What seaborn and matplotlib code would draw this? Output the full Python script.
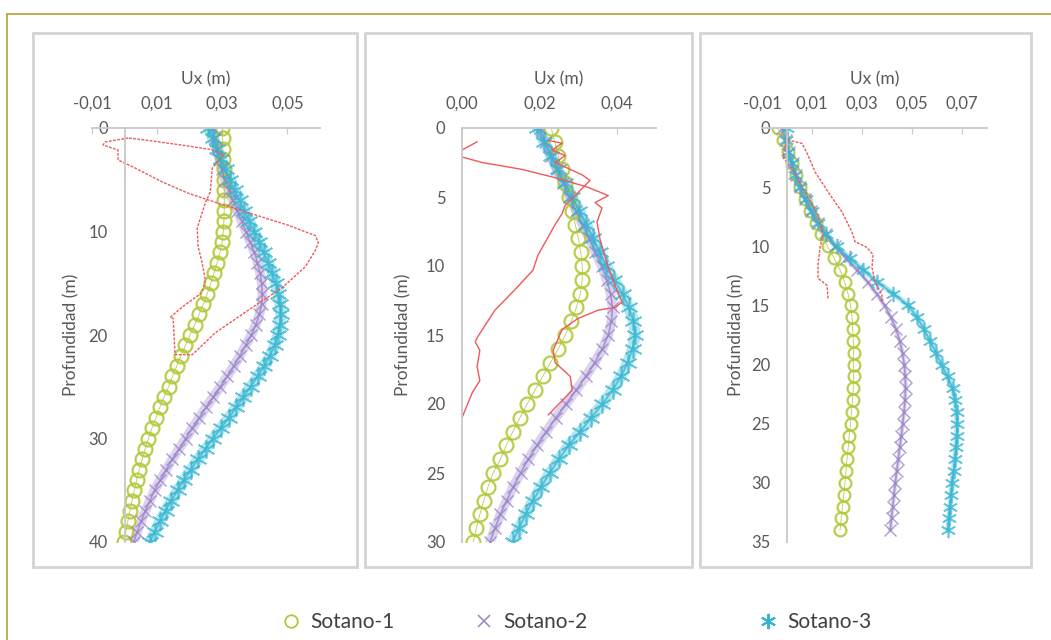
import numpy as np
import pandas as pd
import seaborn as sns
import matplotlib.pyplot as plt
from matplotlib.lines import Line2D
from matplotlib.patches import Rectangle

# --- data (Ux in m) ---
series_names = ['Sotano-1', 'Sotano-2', 'Sotano-3']

# depth grid (m) of the model curves, one reading per metre
prof_1 = list(range(0, 41))
prof_2 = list(range(0, 31))
prof_3 = list(range(0, 35))

s1_p1 = [0.0300, 0.0301, 0.0302, 0.0303, 0.0304, 0.0305, 0.0306, 0.0306, 0.0306, 0.0305,
         0.0303, 0.0300, 0.0293, 0.0284, 0.0275, 0.0265, 0.0254, 0.0242, 0.0229, 0.0215,
         0.0201, 0.0187, 0.0173, 0.0160, 0.0147, 0.0135, 0.0121, 0.0108, 0.0096, 0.0084,
         0.0073, 0.0063, 0.0054, 0.0045, 0.0037, 0.0030, 0.0023, 0.0016, 0.0010, 0.0004,
         -0.0002]
s2_p1 = [0.0270, 0.0277, 0.0284, 0.0291, 0.0299, 0.0307, 0.0320, 0.0333, 0.0346, 0.0360,
         0.0373, 0.0386, 0.0398, 0.0408, 0.0416, 0.0421, 0.0423, 0.0421, 0.0414, 0.0403,
         0.0389, 0.0372, 0.0354, 0.0335, 0.0315, 0.0294, 0.0272, 0.0250, 0.0229, 0.0208,
         0.0188, 0.0167, 0.0147, 0.0128, 0.0110, 0.0092, 0.0078, 0.0064, 0.0051, 0.0039,
         0.0028]
s3_p1 = [0.0257, 0.0270, 0.0283, 0.0296, 0.0310, 0.0324, 0.0338, 0.0353, 0.0368, 0.0383,
         0.0398, 0.0413, 0.0427, 0.0441, 0.0453, 0.0464, 0.0472, 0.0477, 0.0479, 0.0477,
         0.0471, 0.0461, 0.0447, 0.0429, 0.0409, 0.0387, 0.0365, 0.0343, 0.0320, 0.0296,
         0.0272, 0.0249, 0.0226, 0.0204, 0.0183, 0.0163, 0.0144, 0.0126, 0.0109, 0.0093,
         0.0078]

s1_p2 = [0.0230, 0.0239, 0.0248, 0.0257, 0.0266, 0.0275, 0.0284, 0.0292, 0.0300, 0.0306,
         0.0310, 0.0310, 0.0305, 0.0295, 0.0282, 0.0266, 0.0248, 0.0228, 0.0208, 0.0188,
         0.0168, 0.0149, 0.0131, 0.0114, 0.0099, 0.0080, 0.0067, 0.0056, 0.0046, 0.0037,
         0.0029]
s2_p2 = [0.0200, 0.0215, 0.0230, 0.0245, 0.0261, 0.0277, 0.0294, 0.0311, 0.0328, 0.0344,
         0.0360, 0.0373, 0.0383, 0.0388, 0.0385, 0.0377, 0.0362, 0.0342, 0.0319, 0.0294,
         0.0268, 0.0242, 0.0217, 0.0193, 0.0171, 0.0151, 0.0132, 0.0115, 0.0099, 0.0085,
         0.0072]
s3_p2 = [0.0194, 0.0211, 0.0229, 0.0247, 0.0265, 0.0284, 0.0302, 0.0320, 0.0338, 0.0355,
         0.0372, 0.0392, 0.0414, 0.0430, 0.0442, 0.0446, 0.0440, 0.0427, 0.0410, 0.0388,
         0.0362, 0.0333, 0.0305, 0.0275, 0.0250, 0.0226, 0.0204, 0.0183, 0.0164, 0.0147,
         0.0131]

s1_p3 = [-0.0036, -0.0016, 0.0004, 0.0020, 0.0036, 0.0053, 0.0072, 0.0092, 0.0114, 0.0137,
         0.0162, 0.0188, 0.0212, 0.0230, 0.0244, 0.0254, 0.0260, 0.0263, 0.0265, 0.0266,
         0.0266, 0.0266, 0.0265, 0.0262, 0.0258, 0.0254, 0.0249, 0.0245, 0.0240, 0.0236,
         0.0232, 0.0227, 0.0222, 0.0217, 0.0212]
s2_p3 = [-0.0020, -0.0006, 0.0008, 0.0022, 0.0037, 0.0053, 0.0072, 0.0095, 0.0122, 0.0155,
         0.0192, 0.0235, 0.0280, 0.0322, 0.0358, 0.0390, 0.0416, 0.0436, 0.0451, 0.0462,
         0.0469, 0.0473, 0.0474, 0.0472, 0.0468, 0.0463, 0.0457, 0.0451, 0.0445, 0.0439,
         0.0433, 0.0428, 0.0423, 0.0418, 0.0413]
s3_p3 = [0.0000, -0.0005, 0.0005, 0.0018, 0.0032, 0.0052, 0.0074, 0.0098, 0.0124, 0.0155,
         0.0198, 0.0250, 0.0305, 0.0360, 0.0425, 0.0485, 0.0520, 0.0548, 0.0572, 0.0596,
         0.0618, 0.0642, 0.0662, 0.0672, 0.0678, 0.0680, 0.0679, 0.0676, 0.0672, 0.0666,
         0.0660, 0.0656, 0.0652, 0.0648, 0.0644]

# measured (inclinometer) profiles, red
red1_ux = [0.0011, -0.0060, -0.0066, -0.0020, -0.0020, 0.0032, 0.0115, 0.0195, 0.0300, 0.0402,
           0.0503, 0.0586, 0.0595, 0.0586, 0.0555, 0.0485, 0.0380, 0.0278, 0.0208, 0.0155,
           0.0149, 0.0140, 0.0177, 0.0238, 0.0248, 0.0238, 0.0226, 0.0223, 0.0248, 0.0263,
           0.0269, 0.0303, 0.0269, 0.0165, 0.0063, 0.0011]
red1_z = [0.97, 1.35, 1.64, 2.13, 3.09, 3.86, 5.2, 6.3, 7.4, 8.4,
          9.4, 10.4, 11.1, 11.8, 13.4, 15.4, 17.6, 19.8, 21.9, 21.9,
          18.4, 18.3, 17.3, 15.9, 14.7, 13.0, 11.5, 9.7, 7.2, 6.2,
          3.9, 2.6, 2.1, 1.6, 1.16, 0.97]

red2a_ux = [0.0039, 0.0000, 0.0000, 0.0052, 0.0155, 0.0240, 0.0325, 0.0377, 0.0343, 0.0361,
            0.0348, 0.0356, 0.0377, 0.0403, 0.0413, 0.0395, 0.0351, 0.0299, 0.0258, 0.0235,
            0.0240, 0.0279, 0.0284, 0.0222]
red2a_z = [1.0, 1.6, 2.1, 2.5, 3.0, 3.6, 4.3, 4.9, 5.4, 5.8,
           6.8, 8.1, 10.1, 12.0, 12.6, 13.0, 13.2, 13.8, 14.6, 16.1,
           17.0, 18.0, 19.0, 20.8]
red2b_ux = [0.0000, 0.0026, 0.0046, 0.0039, 0.0046, 0.0034, 0.0041, 0.0085, 0.0137, 0.0183,
            0.0196, 0.0214, 0.0240, 0.0258, 0.0266, 0.0330, 0.0310, 0.0240, 0.0266, 0.0232,
            0.0258, 0.0222]
red2b_z = [21.0, 19.2, 18.3, 17.3, 16.1, 15.5, 15.1, 13.2, 11.7, 10.3,
           9.2, 8.3, 7.0, 6.2, 5.6, 3.8, 3.4, 2.5, 2.0, 1.6,
           1.1, 0.9]

red3_ux = [0.0164, 0.0160, 0.0124, 0.0124, 0.0132, 0.0144, 0.0124, 0.0072, 0.0020, -0.0016,
           0.0000, 0.0060, 0.0084, 0.0112, 0.0164, 0.0220, 0.0260, 0.0272, 0.0320, 0.0344,
           0.0340, 0.0352, 0.0380, 0.0380]
red3_z = [14.4, 13.3, 12.7, 11.6, 10.1, 9.0, 7.4, 5.4, 3.4, 2.5,
          1.0, 1.3, 2.3, 3.7, 5.4, 7.1, 8.8, 9.6, 10.1, 10.7,
          11.8, 13.0, 14.1, 14.7]

# axis ticks
xt_1 = [-0.01, 0.01, 0.03, 0.05]
xl_1 = ['-0,01', '0,01', '0,03', '0,05']
xt_2 = [0.00, 0.02, 0.04]
xl_2 = ['0,00', '0,02', '0,04']
xt_3 = [-0.01, 0.01, 0.03, 0.05, 0.07]
xl_3 = ['-0,01', '0,01', '0,03', '0,05', '0,07']
yt_1 = [0, 10, 20, 30, 40]
yt_2 = [0, 5, 10, 15, 20, 25, 30]
yt_3 = [0, 5, 10, 15, 20, 25, 30, 35]

verde = '#b3c83a'
morado = '#9a82c8'
cian = '#33b5d1'
rojo = '#f0585a'
gris = '#595959'

sns.set_style('white')
plt.rcParams['font.family'] = ['Lato', 'DejaVu Sans']

W, H = 1051, 640
fig = plt.figure(figsize=(W / 100, H / 100), dpi=100)


def box(px_left, px_top, px_right, px_bottom):
    return [px_left / W, 1 - px_bottom / H, (px_right - px_left) / W, (px_bottom - px_top) / H]


def panel(ax, prof, a, b, c, reds, red_ls, xlim, xt, xl, ymax, yt, ylab_x, sizes, band):
    ms_o, ms_x, ms_s = sizes
    # soft band under the purple and cyan markers (they are very dense in the original)
    sns.lineplot(x=b, y=prof, ax=ax, sort=False, estimator=None, color=morado,
                 lw=band, alpha=0.35)
    sns.lineplot(x=c, y=prof, ax=ax, sort=False, estimator=None, color=cian,
                 lw=band + 1, alpha=0.35)
    sns.lineplot(x=a, y=prof, ax=ax, sort=False, estimator=None, color=verde, lw=0.6,
                 marker='o', markersize=ms_o, markerfacecolor='none',
                 markeredgecolor=verde, markeredgewidth=1.6, alpha=0.9)
    sns.lineplot(x=b, y=prof, ax=ax, sort=False, estimator=None, color=morado, lw=1.2,
                 marker='x', markersize=ms_x, markeredgecolor=morado,
                 markeredgewidth=1.0, alpha=0.8)
    sns.lineplot(x=c, y=prof, ax=ax, sort=False, estimator=None, color=cian, lw=1.4,
                 marker=(6, 2, 0), markersize=ms_s, markeredgecolor=cian,
                 markeredgewidth=1.2, alpha=0.75)
    for rx, rz in reds:
        sns.lineplot(x=rx, y=rz, ax=ax, sort=False, estimator=None, color=rojo,
                     lw=1.0, linestyle=red_ls)

    ax.set_xlim(*xlim)
    ax.set_ylim(ymax, 0)
    ax.set_facecolor('none')
    ax.xaxis.tick_top()
    ax.xaxis.set_label_position('top')
    ax.set_xticks(xt)
    ax.set_xticklabels(xl)
    ax.set_yticks(yt)
    ax.set_yticklabels([str(v) for v in yt])
    ax.spines['left'].set_position(('data', 0))
    ax.spines['right'].set_visible(False)
    ax.spines['bottom'].set_visible(False)
    for s in ['left', 'top']:
        ax.spines[s].set_color('#c8c8c8')
        ax.spines[s].set_linewidth(1.3)
    ax.tick_params(axis='x', direction='in', length=4, color='#c8c8c8',
                   labelsize=12, labelcolor=gris, pad=12)
    ax.tick_params(axis='y', direction='out', length=4, color='#c8c8c8',
                   labelsize=12, labelcolor=gris, pad=8)
    ax.set_xlabel('Ux (m)', fontsize=12.5, color=gris, labelpad=8)
    ax.set_ylabel('Profundidad (m)', fontsize=12.5, color=gris)
    ax.yaxis.set_label_coords(ylab_x, 0.5)


ax1 = fig.add_axes(box(92, 128, 320, 542))
ax2 = fig.add_axes(box(462, 128, 656, 542))
ax3 = fig.add_axes(box(762, 128, 987, 542))

panel(ax1, prof_1, s1_p1, s2_p1, s3_p1, [(red1_ux, red1_z)], (0, (2, 1)),
      (-0.01, 0.06), xt_1, xl_1, 40, yt_1, -0.057, (10, 9, 13), 7)
panel(ax2, prof_2, s1_p2, s2_p2, s3_p2, [(red2a_ux, red2a_z), (red2b_ux, red2b_z)], '-',
      (0.0, 0.05), xt_2, xl_2, 30, yt_2, -0.263, (10, 9, 13), 7)
panel(ax3, prof_3, s1_p3, s2_p3, s3_p3, [(red3_ux, red3_z)], (0, (2, 1)),
      (-0.01, 0.08), xt_3, xl_3, 35, yt_3, -0.08, (8.5, 8, 11), 3)

# panel frames
for l, r in [(33, 357), (365, 692), (700, 1031)]:
    fig.patches.append(Rectangle((l / W, 1 - 567 / H), (r - l) / W, (567 - 33) / H,
                                 transform=fig.transFigure, fill=False,
                                 edgecolor='#d4d4d4', lw=2.0))

# outer golden frame (left and top edges only visible)
fig.add_artist(Line2D([7 / W, 7 / W], [0, 1 - 14 / H], transform=fig.transFigure,
                      color='#b9a845', lw=1.3))
fig.add_artist(Line2D([7 / W, 1], [1 - 14 / H, 1 - 14 / H], transform=fig.transFigure,
                      color='#b9a845', lw=1.3))

# legend
handles = [
    Line2D([], [], ls='none', marker='o', markersize=9, markerfacecolor='none',
           markeredgecolor=verde, markeredgewidth=1.3),
    Line2D([], [], ls='none', marker='x', markersize=9, markeredgecolor=morado,
           markeredgewidth=1.1),
    Line2D([], [], ls='none', marker=(6, 2, 0), markersize=11, markeredgecolor=cian,
           markeredgewidth=1.4),
]
for h, name, x0 in zip(handles, series_names, [281, 474, 758]):
    fig.legend(handles=[h], labels=[name], loc='center left',
               bbox_to_anchor=(x0 / W, 1 - 622 / H), frameon=False,
               fontsize=15, handlelength=1.0, handletextpad=0.4,
               borderpad=0, borderaxespad=0, labelcolor='#404040')

fig.savefig('out.png', dpi=100)
